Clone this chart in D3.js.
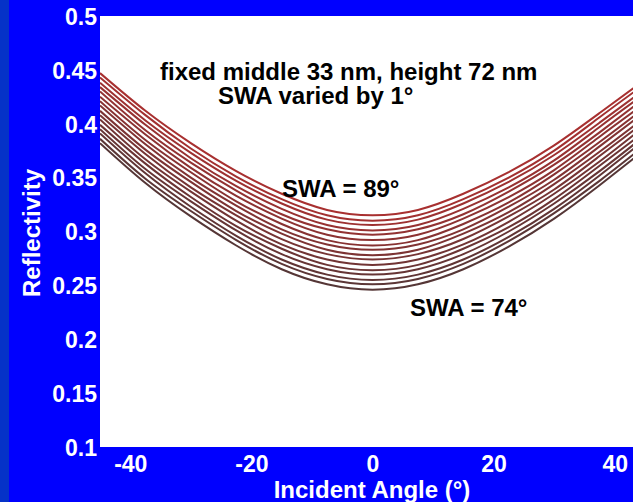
<!DOCTYPE html>
<html>
<head>
<meta charset="utf-8">
<script src="https://cdn.jsdelivr.net/npm/d3@7/dist/d3.min.js"></script>
<style>
  body { margin: 0; padding: 0; background: #0000ff; }
  svg { display: block; }
  text { font-family: "Liberation Sans", Arial, sans-serif; font-weight: bold; }
</style>
</head>
<body>
<div id="chart"></div>
<script>

var angles = [-45, -37.5, -30, -22.5, -15, -7.5, 0, 7.5, 15, 22.5, 30, 37.5, 45];

// sidewall angles, one curve each
var swa = [74, 75, 76, 77, 78, 79, 80, 81, 82, 83, 84, 85, 86, 87, 88, 89];

// reflectivity for each SWA (same order as swa)
var refl = [
  [0.382, 0.345, 0.314, 0.287, 0.265, 0.251, 0.246, 0.251, 0.265, 0.286, 0.312, 0.343, 0.376],
  [0.386, 0.349, 0.319, 0.292, 0.270, 0.256, 0.251, 0.256, 0.270, 0.291, 0.317, 0.347, 0.380],
  [0.391, 0.354, 0.323, 0.296, 0.274, 0.260, 0.255, 0.260, 0.274, 0.295, 0.321, 0.352, 0.385],
  [0.395, 0.358, 0.328, 0.301, 0.279, 0.265, 0.260, 0.265, 0.279, 0.300, 0.326, 0.356, 0.389],
  [0.399, 0.363, 0.332, 0.305, 0.284, 0.269, 0.264, 0.269, 0.284, 0.304, 0.330, 0.361, 0.393],
  [0.404, 0.367, 0.337, 0.310, 0.288, 0.274, 0.269, 0.274, 0.288, 0.309, 0.335, 0.365, 0.398],
  [0.408, 0.372, 0.341, 0.315, 0.293, 0.279, 0.274, 0.279, 0.293, 0.314, 0.339, 0.370, 0.402],
  [0.412, 0.376, 0.346, 0.319, 0.298, 0.283, 0.278, 0.283, 0.298, 0.318, 0.344, 0.374, 0.406],
  [0.417, 0.381, 0.350, 0.324, 0.302, 0.288, 0.283, 0.288, 0.302, 0.323, 0.348, 0.379, 0.411],
  [0.421, 0.385, 0.355, 0.328, 0.307, 0.292, 0.287, 0.292, 0.307, 0.327, 0.353, 0.383, 0.415],
  [0.425, 0.390, 0.359, 0.333, 0.312, 0.297, 0.292, 0.297, 0.312, 0.332, 0.357, 0.388, 0.419],
  [0.430, 0.394, 0.364, 0.338, 0.316, 0.302, 0.297, 0.302, 0.316, 0.337, 0.362, 0.392, 0.424],
  [0.434, 0.399, 0.368, 0.342, 0.321, 0.306, 0.301, 0.306, 0.321, 0.341, 0.366, 0.397, 0.428],
  [0.438, 0.403, 0.373, 0.347, 0.326, 0.311, 0.306, 0.311, 0.326, 0.346, 0.371, 0.401, 0.432],
  [0.443, 0.408, 0.377, 0.351, 0.330, 0.315, 0.310, 0.315, 0.330, 0.350, 0.375, 0.406, 0.437],
  [0.447, 0.412, 0.382, 0.356, 0.335, 0.320, 0.315, 0.320, 0.335, 0.355, 0.380, 0.410, 0.441]
];

var xTicks = [-40, -20, 0, 20, 40];
var yTicks = [0.1, 0.15, 0.2, 0.25, 0.3, 0.35, 0.4, 0.45, 0.5];

var titleLines = ["fixed middle 33 nm, height 72 nm", "SWA varied by 1\u00b0"];
var curveNotes = [{swa: 89, text: "SWA = 89\u00b0"}, {swa: 74, text: "SWA = 74\u00b0"}];

var W = 633, H = 502;
var plot = {left: 100, top: 16, right: 645, bottom: 447};

var svg = d3.select("#chart").append("svg")
  .attr("width", W)
  .attr("height", H);

// background + darker strip on the left
svg.append("rect").attr("width", W).attr("height", H).attr("fill", "#0000ff");
svg.append("rect").attr("width", 9).attr("height", H).attr("fill", "#0532c8");

var x = d3.scaleLinear().domain([-45, 45]).range([plot.left, plot.right]);
var y = d3.scaleLinear().domain([0.1, 0.5]).range([plot.bottom, plot.top]);

svg.append("defs").append("clipPath").attr("id", "clip")
  .append("rect")
  .attr("x", plot.left).attr("y", plot.top)
  .attr("width", plot.right - plot.left).attr("height", plot.bottom - plot.top);

svg.append("rect")
  .attr("x", plot.left).attr("y", plot.top)
  .attr("width", plot.right - plot.left).attr("height", plot.bottom - plot.top)
  .attr("fill", "#ffffff");

// colour goes from dark brown (74) to red (89)
var color = d3.scaleLinear()
  .domain([74, 89])
  .range(["#553636", "#a83030"])
  .interpolate(d3.interpolateRgb);

var line = d3.line()
  .x(function(d) { return x(d[0]); })
  .y(function(d) { return y(d[1]); })
  .curve(d3.curveNatural);

svg.append("g").attr("clip-path", "url(#clip)")
  .selectAll("path")
  .data(swa)
  .enter().append("path")
  .attr("d", function(s, i) {
    return line(angles.map(function(a, j) { return [a, refl[i][j]]; }));
  })
  .attr("fill", "none")
  .attr("stroke", function(s) { return color(s); })
  .attr("stroke-width", 2);

// axes (labels only, no tick marks)
var xAxis = svg.append("g")
  .attr("transform", "translate(0," + plot.bottom + ")")
  .call(d3.axisBottom(x).tickValues(xTicks).tickSize(0).tickPadding(0).tickFormat(function(d) { return String(d); }));
xAxis.select(".domain").remove();
xAxis.selectAll("text")
  .attr("y", 25)
  .attr("dy", 0)
  .attr("fill", "#ffffff")
  .style("font-size", "23px")
  .style("font-family", "'Liberation Sans', Arial, sans-serif")
  .style("font-weight", "bold");

var yAxis = svg.append("g")
  .attr("transform", "translate(" + plot.left + ",0)")
  .call(d3.axisLeft(y).tickValues(yTicks).tickSize(0).tickPadding(3).tickFormat(function(d) { return String(+d.toFixed(2)); }));
yAxis.select(".domain").remove();
yAxis.selectAll("text")
  .attr("dy", "0.36em")
  .attr("fill", "#ffffff")
  .style("font-size", "23px")
  .style("font-family", "'Liberation Sans', Arial, sans-serif")
  .style("font-weight", "bold");

// axis titles
svg.append("text")
  .attr("x", 372)
  .attr("y", 498)
  .attr("text-anchor", "middle")
  .attr("fill", "#ffffff")
  .style("font-size", "24px")
  .text("Incident Angle (\u00b0)");

svg.append("text")
  .attr("transform", "translate(40," + 233 + ") rotate(-90)")
  .attr("text-anchor", "middle")
  .attr("fill", "#ffffff")
  .style("font-size", "24px")
  .text("Reflectivity");

// annotations
svg.append("text").attr("x", 160).attr("y", 80)
  .attr("fill", "#000000").style("font-size", "24px").text(titleLines[0]);
svg.append("text").attr("x", 218).attr("y", 104)
  .attr("fill", "#000000").style("font-size", "24px").text(titleLines[1]);

svg.append("text").attr("x", 282).attr("y", 197)
  .attr("fill", "#000000").style("font-size", "24px").text(curveNotes[0].text);
svg.append("text").attr("x", 410).attr("y", 316)
  .attr("fill", "#000000").style("font-size", "24px").text(curveNotes[1].text);

</script>
</body>
</html>
